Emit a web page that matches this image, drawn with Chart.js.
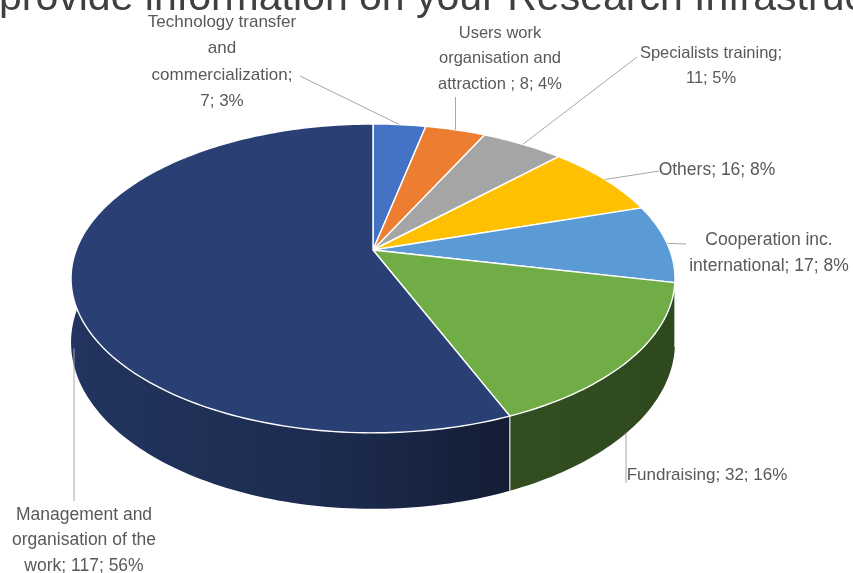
<!DOCTYPE html>
<html>
<head>
<meta charset="utf-8">
<script src="https://cdn.jsdelivr.net/npm/chart.js@4.4.1/dist/chart.umd.min.js"></script>
<style>
  html, body { margin: 0; padding: 0; background: #fff; overflow: hidden; }
  canvas { display: block; }
</style>
</head>
<body>
<canvas id="chartTasks" width="853" height="573"></canvas>
<script>
// Data
const categories = [
  "Technology transfer and commercialization",
  "Users work organisation and attraction ",
  "Specialists training",
  "Others",
  "Cooperation inc. international",
  "Fundraising",
  "Management and organisation of the work"
];
const values = [7, 8, 11, 16, 17, 32, 117];
const percents = [3, 4, 5, 8, 8, 16, 56];
const colors = ["#4472C4", "#ED7D31", "#A5A5A5", "#FFC000", "#5B9BD5", "#70AD47", "#2A4074"];

// Pie geometry (perspective of the disk)
const cx = 373, cy = 250, A = 296.8, B = 149.2, k = 0.184, H = 62;

// Label placement: centre x, first line y, line height, wrap width, font size, leader end
const labelLayout = [
  { x: 222, y: 22, lh: 26.5, w: 156, size: 17, end: [300, 76] },
  { x: 500, y: 33, lh: 25.5, w: 150, size: 16.5, end: null },
  { x: 711, y: 53, lh: 25, w: 160, size: 16.5, end: [637, 57] },
  { x: 717, y: 170, lh: 25, w: 400, size: 17.5, end: [659, 171] },
  { x: 769, y: 240, lh: 26, w: 175, size: 17.5, end: [686, 244] },
  { x: 707, y: 475, lh: 25, w: 400, size: 17, end: null, lineX: 626, side: true },
  { x: 84, y: 515, lh: 25.5, w: 165, size: 17.5, end: null, lineX: 74 }
];

function proj(ang, down) {
  const u = Math.cos(ang), v = -Math.sin(ang);
  const w = 1 + k * v;
  return { x: cx + A * u / w, y: cy - B * v / w + (down ? H / w : 0), v: v };
}

function shade(hex, f) {
  const n = parseInt(hex.slice(1), 16);
  const r = Math.round(((n >> 16) & 255) * f);
  const g = Math.round(((n >> 8) & 255) * f);
  const b = Math.round((n & 255) * f);
  return `rgb(${r},${g},${b})`;
}

function rim(ctx, s, e, down, reverse) {
  const steps = Math.max(8, Math.ceil((e - s) / 0.02));
  for (let j = 0; j <= steps; j++) {
    const t = reverse ? e - (e - s) * j / steps : s + (e - s) * j / steps;
    const p = proj(t, down);
    ctx.lineTo(p.x, p.y);
  }
}

function wrap(ctx, text, maxW) {
  const words = text.split(" ");
  const lines = [];
  let line = "";
  words.forEach(wd => {
    const test = line ? line + " " + wd : wd;
    if (line && ctx.measureText(test).width > maxW) {
      lines.push(line);
      line = wd;
    } else {
      line = test;
    }
  });
  lines.push(line);
  return lines;
}

const pie3d = {
  id: "pie3d",
  beforeDatasetsDraw(chart) {
    const ctx = chart.ctx;
    const arcs = chart.getDatasetMeta(0).data;
    ctx.save();
    // side walls
    arcs.forEach((arc, i) => {
      ctx.beginPath();
      const p0 = proj(arc.startAngle, false);
      ctx.moveTo(p0.x, p0.y);
      rim(ctx, arc.startAngle, arc.endAngle, false, false);
      rim(ctx, arc.startAngle, arc.endAngle, true, true);
      ctx.closePath();
      const grad = ctx.createLinearGradient(72, 0, 675, 0);
      grad.addColorStop(0, shade(colors[i], 0.82));
      grad.addColorStop(0.45, shade(colors[i], 0.66));
      grad.addColorStop(0.72, shade(colors[i], 0.45));
      grad.addColorStop(1, shade(colors[i], 0.42));
      ctx.fillStyle = grad;
      ctx.fill();
    });
    // edges between slices on the front wall
    ctx.strokeStyle = "rgba(255,255,255,0.85)";
    ctx.lineWidth = 1.2;
    arcs.forEach(arc => {
      const t = proj(arc.startAngle, false);
      if (t.v < -k) {
        const b = proj(arc.startAngle, true);
        ctx.beginPath();
        ctx.moveTo(t.x, t.y);
        ctx.lineTo(b.x, b.y);
        ctx.stroke();
      }
    });
    // top faces
    arcs.forEach((arc, i) => {
      ctx.beginPath();
      ctx.moveTo(cx, cy);
      rim(ctx, arc.startAngle, arc.endAngle, false, false);
      ctx.closePath();
      ctx.fillStyle = colors[i];
      ctx.fill();
      ctx.strokeStyle = "#ffffff";
      ctx.lineWidth = 1.4;
      ctx.lineJoin = "round";
      ctx.stroke();
    });
    ctx.restore();
    return false;
  },
  afterDraw(chart) {
    const ctx = chart.ctx;
    const arcs = chart.getDatasetMeta(0).data;
    ctx.save();
    // cut-off title
    ctx.fillStyle = "#404040";
    ctx.font = "41px 'Liberation Sans', Arial, sans-serif";
    ctx.textBaseline = "alphabetic";
    ctx.textAlign = "left";
    ctx.fillText("provide information on your Research Infrastructure", -1, 10);

    arcs.forEach((arc, i) => {
      const L = labelLayout[i];
      const mid = (arc.startAngle + arc.endAngle) / 2;
      const top = proj(mid, false);
      const start = top.v < 0 ? proj(mid, true) : top;
      ctx.font = `${L.size}px 'Liberation Sans', Arial, sans-serif`;
      const text = `${categories[i]}; ${values[i]}; ${percents[i]}%`;
      const lines = wrap(ctx, text, L.w);
      // leader line
      let sx = start.x, sy = start.y + (top.v < 0 ? 4 : 0);
      let end;
      if (L.end) end = L.end;
      else if (L.side) { sx = L.lineX; end = [sx, L.y + 8]; }
      else if (top.v < 0) { if (L.lineX) sx = L.lineX; end = [sx, L.y - 14]; }
      else end = [sx, L.y + L.lh * (lines.length - 1) + 13];
      ctx.strokeStyle = "#a6a6a6";
      ctx.lineWidth = 1;
      ctx.beginPath();
      ctx.moveTo(sx, sy);
      ctx.lineTo(end[0], end[1]);
      ctx.stroke();
      // text
      ctx.fillStyle = "#595959";
      ctx.textAlign = "center";
      ctx.textBaseline = "middle";
      lines.forEach((ln, j) => ctx.fillText(ln, L.x, L.y + j * L.lh));
    });
    ctx.restore();
  }
};

const ctx1 = document.getElementById("chartTasks").getContext("2d");
new Chart(ctx1, {
  type: "pie",
  data: {
    labels: categories,
    datasets: [{
      data: values,
      backgroundColor: colors
    }]
  },
  options: {
    responsive: false,
    animation: false,
    events: [],
    devicePixelRatio: 1,
    plugins: {
      legend: { display: false },
      tooltip: { enabled: false }
    }
  },
  plugins: [pie3d]
});
</script>
</body>
</html>
